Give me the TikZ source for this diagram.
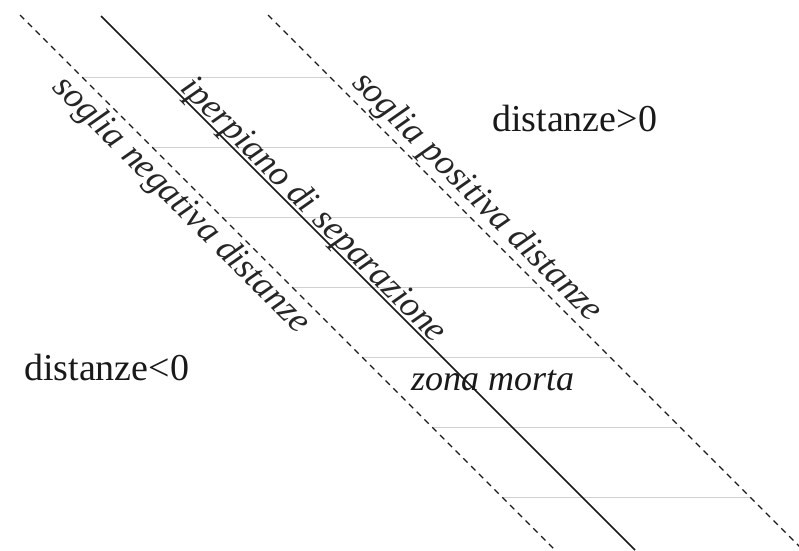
\documentclass[tikz,border=0pt]{standalone}
\usepackage{fontspec}
\setmainfont{Liberation Serif}
\begin{document}
\begin{tikzpicture}[x=1pt,y=-1pt,
  guide/.style={draw=black!18, line width=0.9pt},
  thresh/.style={draw=black!90, line width=1.3pt, dash pattern=on 6pt off 5pt},
  plane/.style={draw=black!90, line width=1.5pt},
  difftext/.style={font=\fontsize{36}{40}\selectfont\itshape, rotate=-45, anchor=base, inner sep=0pt, text=black!85},
  region/.style={font=\fontsize{38}{42}\selectfont, anchor=base west, inner sep=0pt, text=black!90}]
\useasboundingbox (0,0) rectangle (799,550);
% guide lines of the dead zone
\foreach \i/\yy in {1/77,2/147,3/217,4/287,5/357,6/427,7/497}{
  \coordinate (hl\i) at ({\yy+5},\yy);
  \coordinate (hr\i) at ({\yy+253},\yy);
  \draw[guide] (hl\i) -- (hr\i);
}
% threshold and separating lines
\coordinate (nTop) at (20,15);  \coordinate (nBot) at (555,550);
\coordinate (sTop) at (101,16); \coordinate (sBot) at (635,550);
\coordinate (pTop) at (268,15); \coordinate (pBot) at (803,550);
\draw[thresh] (nTop) -- (nBot);
\draw[plane] (sTop) -- (sBot);
\draw[thresh] (pTop) -- (pBot);
% labels
\node[difftext] (neg) at (174.5,211.5) {soglia negativa distanze};
\node[difftext] (sep) at (307,217) {iperpiano di separazione};
\node[difftext] (pos) at (470.5,203.5) {soglia positiva distanze};
\node[region] (dpos) at (492,131) {distanze>0};
\node[region] (dneg) at (24,380) {distanze<0};
\node[region, font=\fontsize{36}{40}\selectfont\itshape] (dead) at (411,390) {zona morta};
\end{tikzpicture}
\end{document}
